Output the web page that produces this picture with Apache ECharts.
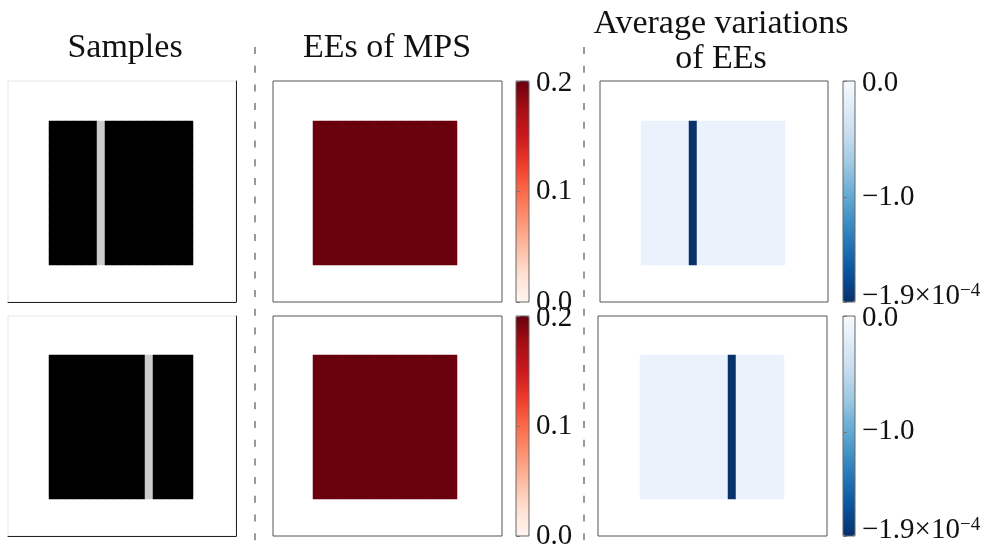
<!DOCTYPE html>
<html>
<head>
<meta charset="utf-8">
<script src="https://cdn.jsdelivr.net/npm/echarts@6/dist/echarts.min.js"></script>
<style>html,body{margin:0;padding:0;background:#fff}#c{width:999px;height:558px}</style>
</head>
<body>
<div id="c"></div>
<script>
// ---- data ----
const pixelIndex = ['0','1','2','3','4','5','6','7','8','9','10','11','12','13','14','15','16','17','18','19','20','21','22','23','24','25','26','27'];
const innerFirst = 5;   // first pixel of the inner square (rows and columns)
const innerLast = 22;   // last pixel of the inner square
// column profiles inside the inner square (columns 5..22)
const sampleTop    = [0,0,0,0,0,0,0.8,0,0,0,0,0,0,0,0,0,0,0];
const sampleBottom = [0,0,0,0,0,0,0,0,0,0,0,0,0.8,0,0,0,0,0];
const eeTop    = [0.198,0.199,0.199,0.198,0.199,0.199,0.199,0.198,0.199,0.199,0.198,0.199,0.199,0.199,0.198,0.199,0.199,0.198];
const eeBottom = [0.198,0.199,0.199,0.198,0.199,0.199,0.199,0.198,0.199,0.199,0.198,0.199,0.199,0.199,0.198,0.199,0.199,0.198];
// average variations, in units of 1e-4
const varTop    = [-0.12,-0.12,-0.12,-0.12,-0.12,-0.12,-1.9,-0.12,-0.12,-0.12,-0.12,-0.12,-0.12,-0.12,-0.12,-0.12,-0.12,-0.12];
const varBottom = [-0.12,-0.12,-0.12,-0.12,-0.12,-0.12,-0.12,-0.12,-0.12,-0.12,-0.12,-1.9,-0.12,-0.12,-0.12,-0.12,-0.12,-0.12];
const titles = ['Samples', 'EEs of MPS', 'Average variations\nof EEs'];
const eeTicks = [0, 0.1, 0.2];
const varTicks = [-1.9, -1.0, 0];

const REDS = ['#fff5f0','#fee0d2','#fcbba1','#fc9272','#fb6a4a','#ef3b2c','#cb181d','#a50f15','#67000d'];
const BLUES_R = ['#08306b','#08519c','#2171b5','#4292c6','#6baed6','#9ecae1','#c6dbef','#deebf7','#f7fbff'];

function cells(profile) {
  const out = [];
  for (let r = innerFirst; r <= innerLast; r++) {
    for (let i = 0; i < profile.length; i++) out.push([innerFirst + i, r, profile[i]]);
  }
  return out;
}

const FONT = 'Liberation Serif';
// frame rectangles (axes boxes) and the pixel grid inside them (8px cells)
const panels = [
  {l: 8,   t: 81,  w: 228, h: 221, gl: 9,   gt: 81,  d: sampleTop,    frame: 'sample'},
  {l: 8,   t: 316, w: 228, h: 220, gl: 9,   gt: 315, d: sampleBottom, frame: 'sample'},
  {l: 273, t: 81,  w: 229, h: 221, gl: 273, gt: 81,  d: eeTop,        frame: 'box'},
  {l: 273, t: 316, w: 229, h: 220, gl: 273, gt: 315, d: eeBottom,     frame: 'box'},
  {l: 600, t: 81,  w: 228, h: 221, gl: 601, gt: 81,  d: varTop,       frame: 'box'},
  {l: 598, t: 316, w: 229, h: 220, gl: 600, gt: 315, d: varBottom,    frame: 'box'}
];
const bars = [
  {l: 516, t: 81,  w: 13, h: 221, kind: 'ee'},
  {l: 516, t: 316, w: 13, h: 220, kind: 'ee'},
  {l: 843, t: 81,  w: 12, h: 221, kind: 'var'},
  {l: 843, t: 316, w: 12, h: 220, kind: 'var'}
];

const grid = [], xAxis = [], yAxis = [], series = [];
// frames
panels.forEach((p, i) => {
  const isS = p.frame === 'sample';
  grid.push({left: p.l, top: p.t, width: p.w, height: p.h, show: true, z: 3,
    borderColor: isS ? '#e6e6e6' : '#555', borderWidth: 1, backgroundColor: 'transparent'});
  xAxis.push({gridIndex: i, type: 'value', min: 0, max: 1, z: 3,
    axisLine: {show: isS, onZero: false, lineStyle: {color: '#222', width: 1}},
    axisTick: {show: false}, axisLabel: {show: false}, splitLine: {show: false}});
  yAxis.push({gridIndex: i, type: 'value', min: 0, max: 1, position: 'right', z: 3,
    axisLine: {show: isS, onZero: false, lineStyle: {color: '#222', width: 1}},
    axisTick: {show: false}, axisLabel: {show: false}, splitLine: {show: false}});
});
// pixel grids
panels.forEach((p, i) => {
  const gi = panels.length + i;
  grid.push({left: p.gl, top: p.gt, width: 224, height: 224, show: false});
  xAxis.push({gridIndex: gi, type: 'category', data: pixelIndex, show: false});
  yAxis.push({gridIndex: gi, type: 'category', data: pixelIndex, inverse: true, show: false});
  series.push({type: 'heatmap', xAxisIndex: gi, yAxisIndex: gi, data: cells(p.d),
    itemStyle: {borderWidth: 0}, emphasis: {disabled: true}, progressive: 0});
});

function eeLabel(v) {
  const s = v.toFixed(1);
  return Math.abs(v - eeTicks[2]) < 1e-9 ? '{t|' + s + '}' : s;
}
function varLabel(v) {
  if (Math.abs(v) < 1e-9) return '{t|0.0}';
  if (Math.abs(v + 1) < 1e-9) return '−1.0';
  return '{m|−1.9×10}{s|−4}';
}

bars.forEach((b, j) => {
  const gi = 2 * panels.length + j;
  grid.push({left: b.l, top: b.t, width: b.w, height: b.h, show: true, z: 10,
    borderColor: '#666', borderWidth: 1, backgroundColor: 'transparent'});
  xAxis.push({gridIndex: gi, type: 'value', show: false, min: 0, max: 1});
  const isEE = b.kind === 'ee';
  const ax = {gridIndex: gi, type: 'value', position: 'right', z: 10,
    min: isEE ? eeTicks[0] : varTicks[0], max: isEE ? eeTicks[2] : varTicks[2],
    axisLine: {show: false}, splitLine: {show: false},
    axisTick: {show: true, length: 4, lineStyle: {color: '#777', width: 1}},
    axisLabel: {show: true, margin: 7, color: '#111', fontFamily: FONT, fontSize: 29,
      formatter: isEE ? eeLabel : varLabel,
      rich: {m: {fontFamily: FONT, fontSize: 29, color: '#111', padding: [0, 0, 11, 0]},
             s: {fontFamily: FONT, fontSize: 19, color: '#111', padding: [0, 0, 21, 0]},
             t: {fontFamily: FONT, fontSize: 29, color: '#111', padding: [5, 0, 0, 0]}}}};
  if (isEE) { ax.interval = 0.1; }
  else {
    ax.axisLabel.customValues = varTicks;
    ax.axisTick.customValues = varTicks;
  }
  yAxis.push(ax);
});

const visualMap = [
  {type: 'continuous', show: false, seriesIndex: [0, 1], min: 0, max: 1, inRange: {color: ['#000000', '#ffffff']}}
];
bars.forEach((b, j) => {
  const isEE = b.kind === 'ee';
  visualMap.push({type: 'continuous', seriesIndex: 2 + j, orient: 'vertical',
    min: isEE ? eeTicks[0] : varTicks[0], max: isEE ? eeTicks[2] : varTicks[2],
    left: b.l, top: b.t, itemWidth: b.w, itemHeight: b.h, padding: 0,
    calculable: false, hoverLink: false, text: null, showLabel: false,
    inRange: {color: isEE ? REDS : BLUES_R}});
});

const title = [
  {text: titles[0], left: 125, top: 31},
  {text: titles[1], left: 387, top: 31},
  {text: titles[2], left: 721, top: 7}
].map(t => Object.assign(t, {padding: 0, textAlign: 'center',
  textStyle: {fontFamily: FONT, fontSize: 34, fontWeight: 'normal', color: '#111', lineHeight: 35, align: 'center'}}));

const graphic = [255, 584].map(x => ({type: 'line', silent: true, z: 100,
  shape: {x1: x, y1: 47, x2: x, y2: 546},
  style: {stroke: '#999', lineWidth: 2, lineDash: [7, 11.7]}}));

const chart = echarts.init(document.getElementById('c'), null, {renderer: 'canvas'});
chart.setOption({animation: false, backgroundColor: '#fff', title, grid, xAxis, yAxis, visualMap, series, graphic});
</script>
</body>
</html>
